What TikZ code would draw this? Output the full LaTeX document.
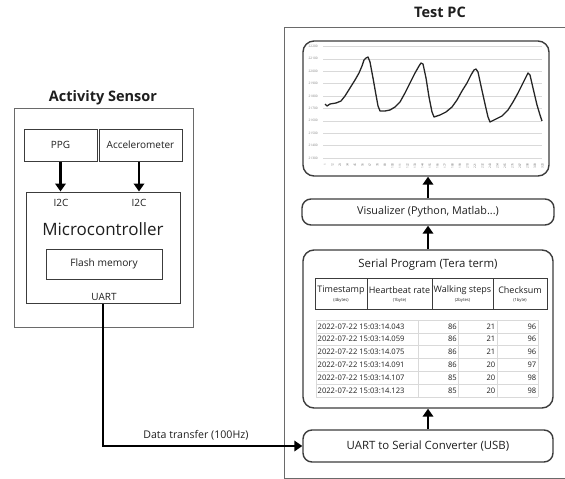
\documentclass[tikz,border=0pt]{standalone}
\usepackage{fontspec}
\setmainfont{Open Sans}
\usetikzlibrary{arrows.meta}
\definecolor{txt}{HTML}{1E1E1E}
\definecolor{edge}{HTML}{3C3C3C}
\definecolor{outer}{HTML}{6A6A6A}
\begin{document}
\begin{tikzpicture}[x=1pt,y=-1pt,
  every node/.style={text=txt,inner sep=0pt},
  plainbox/.style={draw=edge,line width=1pt,minimum width=#1},
  roundbox/.style={draw=edge,line width=1.4pt,rounded corners=9pt},
  outerbox/.style={draw=outer,line width=0.9pt},
  bigarrow/.style={draw=black,line width=2.6pt,-{Triangle[length=8pt,width=10.5pt]}},
  ttl/.style={font=\bfseries\fontsize{14.5}{16}\selectfont},
  lbl/.style={font=\fontsize{10}{11}\selectfont},
  hdr/.style={font=\fontsize{9}{10}\selectfont},
  hdrs/.style={font=\fontsize{4.2}{5}\selectfont},
  tiny/.style={font=\fontsize{3.2}{4}\selectfont,text=gray},
  datatxt/.style={font=\fontsize{7.6}{8}\selectfont},
  boxtxt/.style={font=\fontsize{11.4}{13}\selectfont},
  grid/.style={draw=gray!30,line width=0.4pt}
]
\useasboundingbox (0,0) rectangle (565,479);
\clip (0,0) rectangle (565,479);

% ---------------- Activity Sensor ----------------
\node[ttl] (sensTitle) at (103,98) {Activity Sensor};
\node[outerbox,minimum width=179pt,minimum height=219pt] (sensor) at (103.5,217.5) {};
\node[plainbox=73pt,minimum height=32pt,lbl] (ppg) at (60.5,145) {PPG};
\node[plainbox=83pt,minimum height=32pt,lbl] (accel) at (140.5,145) {Accelerometer};
\node[plainbox=154pt,minimum height=111pt] (micro) at (103,247.5) {};
\node[lbl] (i2cA) at (61,203) {I2C};
\node[lbl] (i2cB) at (139,203) {I2C};
\node[font=\fontsize{17}{20}\selectfont] (microTxt) at (103,229) {Microcontroller};
\node[plainbox=116pt,minimum height=30pt,font=\fontsize{10.2}{12}\selectfont] (flash) at (104,264) {Flash memory};
\node[lbl] (uart) at (104,297) {UART};

\draw[bigarrow] (ppg.south) -- (ppg.south |- micro.north);
\draw[bigarrow] ([xshift=-1.5pt]accel.south) -- ([xshift=-1.5pt]accel.south |- micro.north);

% ---------------- Test PC ----------------
\node[ttl] (pcTitle) at (440,12) {Test PC};
\coordinate (pcTL) at (284,27);
\coordinate (pcBL) at (284,478);
\draw[outerbox] (620,27) -- (pcTL) -- (pcBL) -- (620,478);

% chart
\node[roundbox,minimum width=246pt,minimum height=135pt,rounded corners=11pt] (chart) at (426,108.5) {};
\foreach \k [evaluate=\k as \yy using 158-12.4*\k, evaluate=\k as \vv using int(213+\k)] in {0,...,9} {
  \draw[grid] (323,\yy) -- (542,\yy);
  \node[tiny,anchor=east] at (318,\yy) {\vv00};
}
\foreach \i [evaluate=\i as \xx using 325+7.5*\i, evaluate=\i as \nn using int(1+11*\i)] in {0,...,29} {
  \node[tiny,rotate=90,anchor=east] at (\xx,163) {\nn};
}
\draw[line width=1.3pt,draw=black!85,line join=round]
 (325,104) -- (327,106) -- (330,104) -- (336,103) -- (341,101) -- (345,96) -- (350,88) -- (355,80) -- (359,73) -- (362,66) -- (364,60) -- (366,58) -- (368,57) -- (370,62) -- (373,78) -- (376,95) -- (378,106) -- (380,111) -- (385,111) -- (390,110) -- (395,107) -- (400,102) -- (405,93) -- (410,83) -- (415,73) -- (419,66) -- (421,63) -- (423,64) -- (426,78) -- (429,97) -- (432,112) -- (434,117) -- (440,115) -- (446,112) -- (452,107) -- (457,100) -- (462,91) -- (467,83) -- (471,75) -- (474,70) -- (476,69) -- (478,72) -- (481,86) -- (485,104) -- (488,117) -- (490,122) -- (496,119) -- (502,116) -- (508,110) -- (513,102) -- (518,93) -- (522,85) -- (526,77) -- (528,73) -- (530,75) -- (533,88) -- (537,105) -- (540,115) -- (542,121);

% visualizer
\node[roundbox,minimum width=252pt,minimum height=26pt,font=\fontsize{10.8}{12}\selectfont] (vis) at (428,212) {Visualizer (Python, Matlab...)};

% serial program
\node[roundbox,minimum width=250pt,minimum height=158pt,rounded corners=11pt] (serial) at (428,329) {};
\node[boxtxt] (serTitle) at (428,265) {Serial Program (Tera term)};
\draw[draw=edge,line width=1pt] (315,278) rectangle (547,309);
\foreach \xx in {367,432,493} \draw[draw=edge,line width=1pt] (\xx,278) -- (\xx,309);
\node[hdr] (h1) at (341,290.5) {Timestamp};
\node[hdrs] (h1s) at (341,300.5) {(4bytes)};
\node[hdr] (h2) at (399.5,290.5) {Heartbeat rate};
\node[hdrs] (h2s) at (399.5,300.5) {(1byte)};
\node[hdr] (h3) at (462.5,290.5) {Walking steps};
\node[hdrs] (h3s) at (462.5,300.5) {(2bytes)};
\node[hdr] (h4) at (520,290.5) {Checksum};
\node[hdrs] (h4s) at (520,300.5) {(1byte)};

% data grid
\foreach \yy in {320,332.8,345.6,358.4,371.2,384,396.8} \draw[grid] (316,\yy) -- (538,\yy);
\foreach \xx in {316,418,458,497,538} \draw[grid] (\xx,320) -- (\xx,396.8);
\foreach \ts/\a/\b/\c [count=\r from 0, evaluate=\r as \yy using 326.4+12.8*\r] in
  {043/86/21/96, 059/86/21/96, 075/86/21/96, 091/86/20/97, 107/85/20/98, 123/85/20/98} {
  \node[datatxt,anchor=west] at (317.5,\yy) {2022-07-22 15:03:14.\ts};
  \node[datatxt,anchor=east] at (457,\yy) {\a};
  \node[datatxt,anchor=east] at (495.5,\yy) {\b};
  \node[datatxt,anchor=east] at (536.5,\yy) {\c};
}

% converter
\node[roundbox,minimum width=250pt,minimum height=32pt,boxtxt] (conv) at (428,446) {UART to Serial Converter (USB)};

% arrows on PC side
\draw[bigarrow] (conv.north) -- (serial.south);
\draw[bigarrow] (serial.north) -- (vis.south);
\draw[bigarrow] (vis.north) -- (chart.south -| vis.north);

% data transfer
\draw[bigarrow,line width=2.4pt] (micro.south) |- node[pos=0.733,above=5pt,font=\fontsize{10.6}{12}\selectfont] (dtLbl) {Data transfer (100Hz)} (conv.west);
\end{tikzpicture}
\end{document}
